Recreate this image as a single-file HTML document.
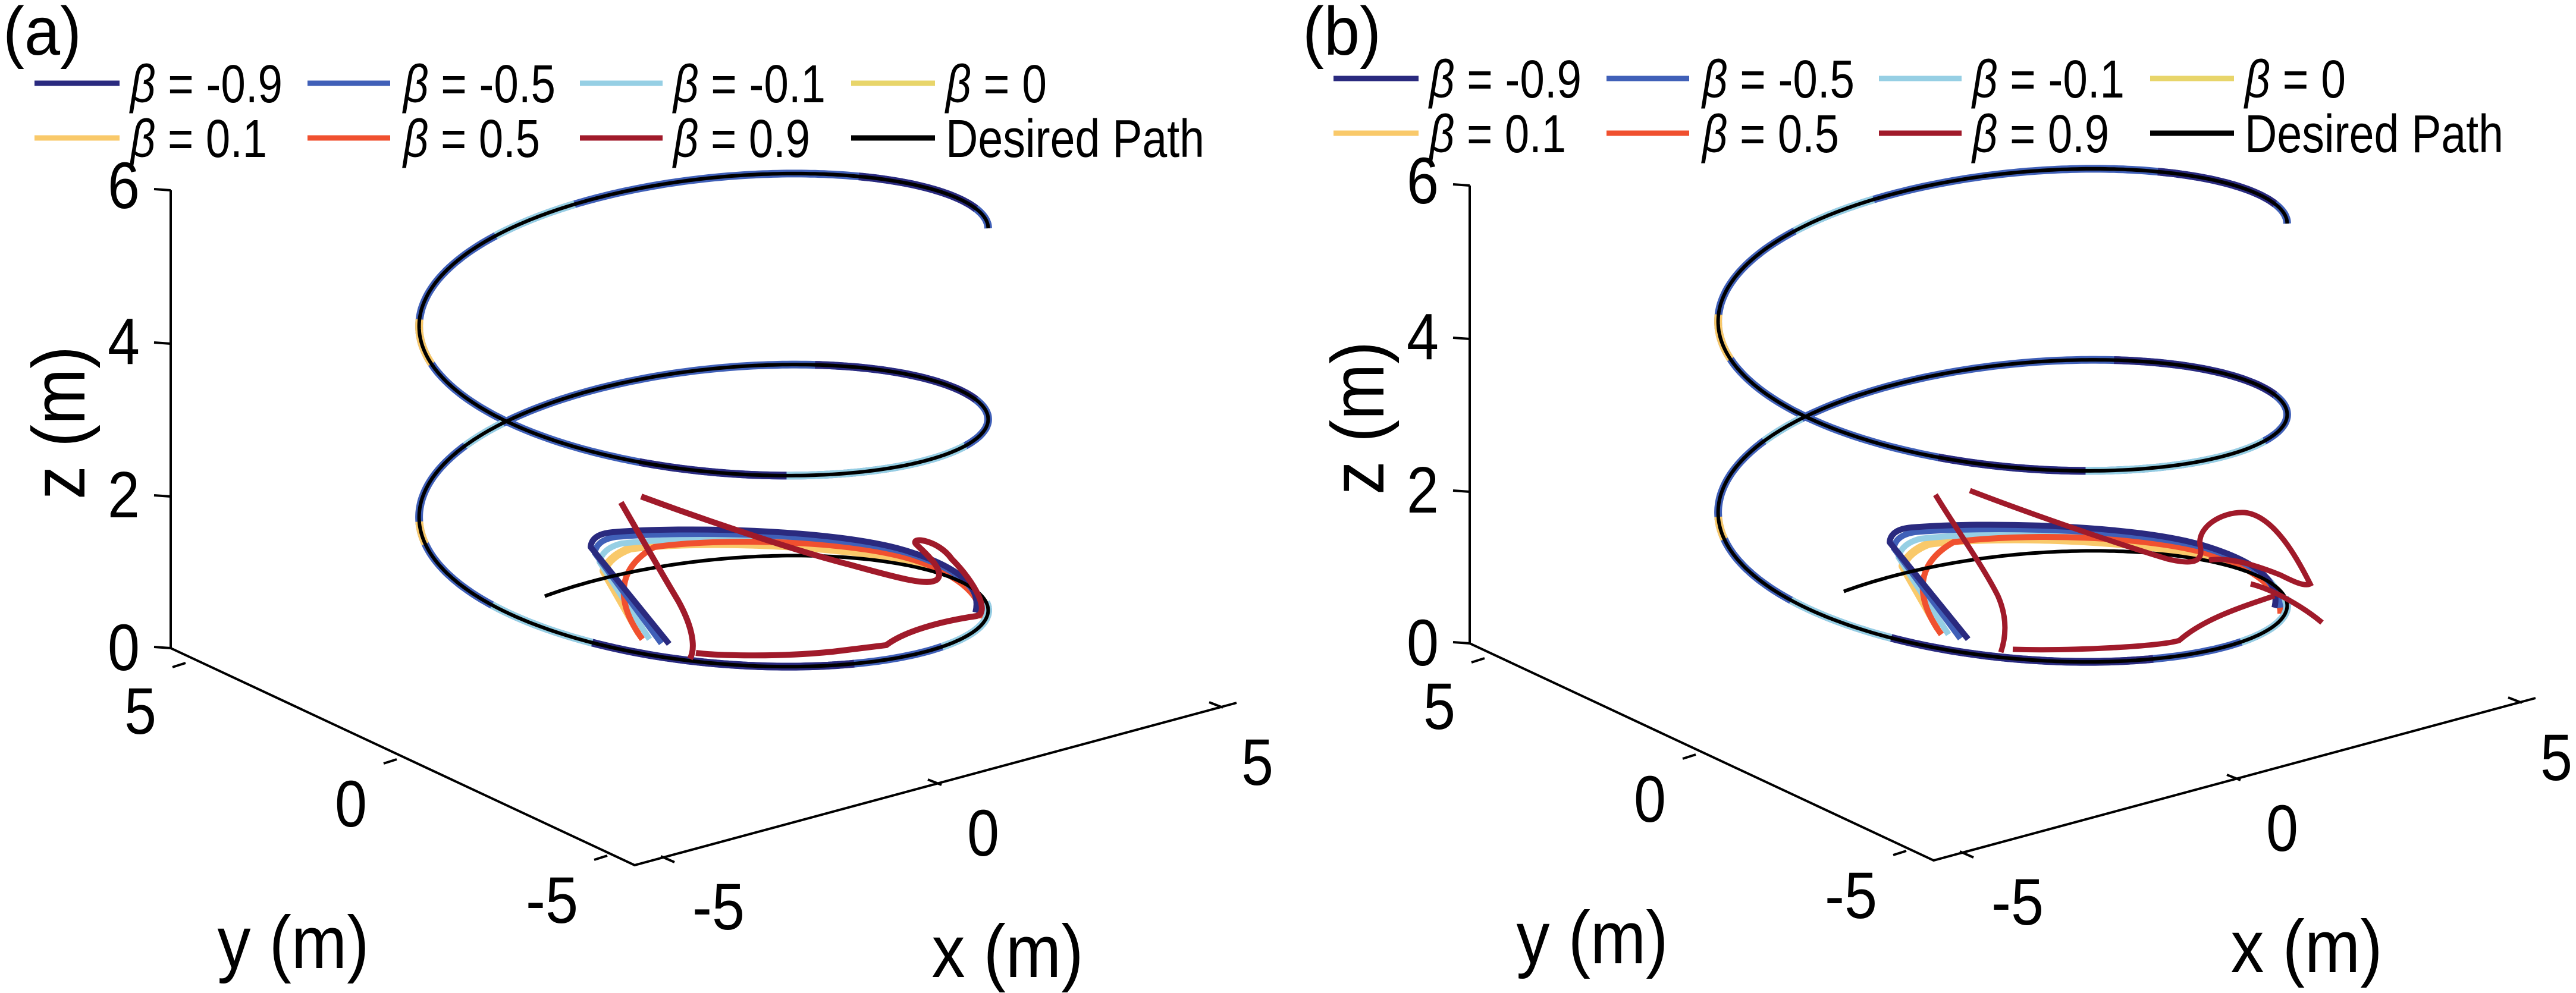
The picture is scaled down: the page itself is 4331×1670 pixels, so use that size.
<!DOCTYPE html>
<html><head><meta charset="utf-8"><style>
html,body{margin:0;padding:0;background:#fff;}
svg{display:block;}
text{font-family:"Liberation Sans",Arial,sans-serif;fill:#000;}
</style></head><body>
<svg id="s" width="4331" height="1670" viewBox="0 0 4331 1670" xmlns="http://www.w3.org/2000/svg">
<defs>
<g id="axes">
  <g stroke="#000" stroke-width="4" fill="none">
    <path d="M287,320 L287,1090 L1067,1455 L2079,1182"/>
    <path d="M287,320 L259,318 M287,578 L259,576 M287,835 L259,833 M287,1090 L259,1088"/>
    <path d="M312,1115 L290,1122 M667,1277 L645,1284 M1021,1439 L999,1446"/>
    <path d="M1111,1440 L1134,1450 M1583,1320 L1560,1311 M2056,1190 L2033,1181"/>
  </g>
  <g font-size="110" text-anchor="middle" lengthAdjust="spacingAndGlyphs">
    <text x="208" y="350" textLength="54" lengthAdjust="spacingAndGlyphs">6</text>
    <text x="208" y="612" textLength="54" lengthAdjust="spacingAndGlyphs">4</text>
    <text x="208" y="870" textLength="54" lengthAdjust="spacingAndGlyphs">2</text>
    <text x="208" y="1127" textLength="54" lengthAdjust="spacingAndGlyphs">0</text>
    <text x="236" y="1234" textLength="54" lengthAdjust="spacingAndGlyphs">5</text>
    <text x="590" y="1390" textLength="54" lengthAdjust="spacingAndGlyphs">0</text>
    <text x="928" y="1552" textLength="88" lengthAdjust="spacingAndGlyphs">-5</text>
    <text x="1208" y="1563" textLength="88" lengthAdjust="spacingAndGlyphs">-5</text>
    <text x="1653" y="1439" textLength="54" lengthAdjust="spacingAndGlyphs">0</text>
    <text x="2114" y="1320" textLength="54" lengthAdjust="spacingAndGlyphs">5</text>
  </g>
  <text x="493" y="1628" font-size="125" text-anchor="middle" textLength="255" lengthAdjust="spacingAndGlyphs">y (m)</text>
  <text x="1694" y="1643" font-size="125" text-anchor="middle" textLength="255" lengthAdjust="spacingAndGlyphs">x (m)</text>
  <text transform="translate(142,711) rotate(-90)" x="0" y="0" font-size="125" text-anchor="middle" textLength="258" lengthAdjust="spacingAndGlyphs">z (m)</text>
  <g stroke-width="9">
    <line x1="58" y1="140" x2="201" y2="140" stroke="#2a2a7f"/>
    <line x1="517" y1="140" x2="656" y2="140" stroke="#4060b8"/>
    <line x1="975" y1="140" x2="1114" y2="140" stroke="#96cfe4"/>
    <line x1="1431" y1="140" x2="1572" y2="140" stroke="#e8d56a"/>
    <line x1="58" y1="232" x2="201" y2="232" stroke="#f9c96a"/>
    <line x1="517" y1="232" x2="656" y2="232" stroke="#f0502f"/>
    <line x1="975" y1="232" x2="1114" y2="232" stroke="#a01a2a"/>
    <line x1="1431" y1="232" x2="1572" y2="232" stroke="#000"/>
  </g>
  <g font-size="90">
    <text x="219" y="172" textLength="256" lengthAdjust="spacingAndGlyphs"><tspan font-style="italic">β</tspan> = -0.9</text>
    <text x="678" y="172" textLength="256" lengthAdjust="spacingAndGlyphs"><tspan font-style="italic">β</tspan> = -0.5</text>
    <text x="1132" y="172" textLength="256" lengthAdjust="spacingAndGlyphs"><tspan font-style="italic">β</tspan> = -0.1</text>
    <text x="1590" y="172" textLength="170" lengthAdjust="spacingAndGlyphs"><tspan font-style="italic">β</tspan> = 0</text>
    <text x="219" y="264" textLength="230" lengthAdjust="spacingAndGlyphs"><tspan font-style="italic">β</tspan> = 0.1</text>
    <text x="678" y="264" textLength="230" lengthAdjust="spacingAndGlyphs"><tspan font-style="italic">β</tspan> = 0.5</text>
    <text x="1132" y="264" textLength="230" lengthAdjust="spacingAndGlyphs"><tspan font-style="italic">β</tspan> = 0.9</text>
    <text x="1590" y="264" textLength="435" lengthAdjust="spacingAndGlyphs">Desired Path</text>
  </g>
  <g fill="none" stroke-width="10" stroke-linecap="butt" stroke-linejoin="round">
    <path stroke="#f9c96a" stroke-width="14" d="M1075,1065 L1015,960 Q1025,935 1060,922 C1150,910 1350,910 1530,942 C1610,962 1645,990 1655,1030"/>
    <path stroke="#96cfe4" d="M1092,1075 L1008,945 Q1013,922 1045,914 C1150,902 1380,902 1530,936 C1615,958 1650,990 1655,1030"/>
    <path stroke="#f0502f" d="M1080,1075 C1040,1020 1030,960 1100,920 C1200,905 1450,905 1560,950 C1630,980 1650,1010 1650,1040"/>
    <path stroke="#4060b8" d="M1112,1082 L1000,930 Q1003,908 1035,903 C1150,893 1400,896 1525,930 C1615,958 1645,990 1650,1030"/>
    <path stroke="#2a2a7f" d="M1125,1083 L993,920 Q995,898 1030,895 C1150,885 1400,890 1520,925 C1620,955 1650,990 1640,1030"/>
  </g>
</g>
</defs>
<text x="5" y="92" font-size="115" textLength="132" lengthAdjust="spacingAndGlyphs">(a)</text>
<text x="2190" y="92" font-size="115" textLength="132" lengthAdjust="spacingAndGlyphs">(b)</text>
<use href="#axes" x="0" y="0"/>
<use href="#axes" x="2184" y="-8"/>
<g id="ha"></g>
<g id="hb" transform="translate(2184,-8)"></g>
</svg>
<script>
(function(){
var NS="http://www.w3.org/2000/svg";
var R=4.05;
function P(x,y,z){return [1183+94.4*x-71*y, 1139-25*x-32.4*y-128.5*z];}
function pts(t0,t1){var a=[];var n=Math.max(4,Math.round(Math.abs(t1-t0)));for(var i=0;i<=n;i++){var t=t0+(t1-t0)*i/n;var r=t*Math.PI/180;var z=(87-t)*2.5/360;var p=P(R*Math.cos(r),R*Math.sin(r),z);a.push(p[0].toFixed(1)+","+p[1].toFixed(1));}return a.join(" ");}
function pl(g,t0,t1,col,w){var e=document.createElementNS(NS,"polyline");e.setAttribute("points",pts(t0,t1));e.setAttribute("fill","none");e.setAttribute("stroke",col);e.setAttribute("stroke-width",w);e.setAttribute("stroke-linejoin","round");g.appendChild(e);}
function path(g,d,col,w){var e=document.createElementNS(NS,"path");e.setAttribute("d",d);e.setAttribute("fill","none");e.setAttribute("stroke",col);e.setAttribute("stroke-width",w);g.appendChild(e);}
function build(g,b){
  pl(g,-30,-757,"#4060b8",13);
  var segs=[[-30,-70,"#96cfe4"],[-95,-150,"#2a2a7f"],[-150,-175,"#96cfe4"],[-205,-215,"#f9c96a"],[-250,-262,"#96cfe4"],[-330,-380,"#2a2a7f"],[-420,-470,"#96cfe4"],[-470,-500,"#2a2a7f"],[-560,-580,"#f9c96a"],[-620,-640,"#96cfe4"],[-700,-740,"#2a2a7f"]];
  for(var i=0;i<segs.length;i++)pl(g,segs[i][0],segs[i][1],segs[i][2],13);
  pl(g,87,-757,"#000",6);
  if(!b){
    path(g,"M1078,835 C1200,880 1350,930 1430,950 C1520,975 1560,985 1575,975 C1592,960 1550,925 1540,915 C1530,902 1578,908 1600,940 C1640,980 1665,1030 1642,1036 C1580,1045 1520,1062 1490,1085 L1400,1096 C1300,1106 1200,1102 1170,1098","#a01a2a",10);
    path(g,"M1044,845 C1070,890 1110,960 1140,1010 C1165,1055 1170,1090 1160,1108","#a01a2a",10);
  } else {
    path(g,"M1128,833 C1250,880 1400,930 1460,948 C1510,960 1520,950 1515,925 C1510,895 1550,868 1590,870 C1640,875 1680,950 1700,990 C1690,995 1670,985 1650,975 C1600,955 1560,945 1530,950 M1600,990 C1640,1000 1690,1030 1720,1055 M1640,1010 C1580,1030 1520,1050 1480,1085 C1450,1095 1300,1103 1200,1100","#a01a2a",9);
    path(g,"M1070,840 C1100,890 1150,960 1175,1010 C1195,1055 1185,1090 1180,1105","#a01a2a",9);
  }
}
build(document.getElementById("ha"),false);
build(document.getElementById("hb"),true);
})();
</script>
</body></html>
